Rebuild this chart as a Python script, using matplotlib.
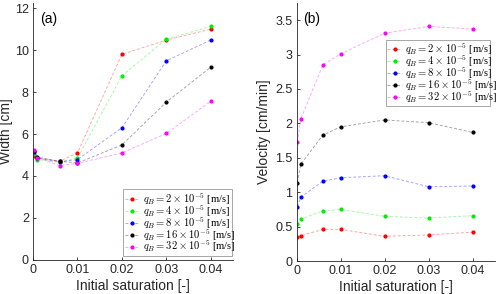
import numpy as np
import matplotlib
matplotlib.use('Agg')
import matplotlib.pyplot as plt
from matplotlib.ticker import FuncFormatter

plt.rcParams['font.family'] = ['Liberation Sans', 'DejaVu Sans']
plt.rcParams['mathtext.fontset'] = 'cm'

saturation = [0.0002, 0.001, 0.006, 0.01, 0.02, 0.03, 0.04]
flow_rates = [2, 4, 8, 16, 32]
colors = ['#ff0000', '#00ee00', '#0000ff', '#000000', '#ff00ff']

width = {
    2: [4.94, 4.85, 4.70, 5.10, 9.80, 10.48, 11.00],
    4: [5.06, 4.78, 4.65, 4.85, 8.78, 10.52, 11.13],
    8: [5.15, 4.85, 4.68, 4.78, 6.30, 9.49, 10.48],
    16: [5.20, 4.90, 4.70, 4.62, 5.48, 7.52, 9.19],
    32: [5.25, 4.88, 4.50, 4.60, 5.10, 6.03, 7.56],
}

velocity = {
    2: [0.35, 0.37, 0.46, 0.46, 0.36, 0.38, 0.42],
    4: [0.54, 0.61, 0.73, 0.75, 0.65, 0.625, 0.66],
    8: [0.79, 0.93, 1.16, 1.21, 1.24, 1.08, 1.09],
    16: [1.14, 1.41, 1.83, 1.95, 2.05, 2.01, 1.87],
    32: [1.73, 2.07, 2.85, 3.01, 3.31, 3.41, 3.37],
}


def fmt(v, pos):
    return '{:g}'.format(v)


def draw(ax, data, ylabel, ylim, yticks, tag, legend_box, label_x):
    for q, c in zip(flow_rates, colors):
        rgb = matplotlib.colors.to_rgb(c)
        ax.plot(saturation, data[q], ls=(0, (3, 2)), lw=0.7,
                color=rgb + (0.35,), marker='.', ms=4,
                markerfacecolor=c, markeredgecolor=c,
                label=r'$q_B = %d \times 10^{-5}$ [m/s]' % q)
    ax.set_xlim(0, 0.045)
    ax.set_ylim(*ylim)
    ax.set_xticks([0, 0.01, 0.02, 0.03, 0.04])
    ax.set_yticks(yticks)
    ax.xaxis.set_major_formatter(FuncFormatter(fmt))
    ax.yaxis.set_major_formatter(FuncFormatter(fmt))
    ax.tick_params(direction='in', length=2.5, width=0.6, labelsize=9,
                   colors='#262626', pad=3)
    for s in ['top', 'right']:
        ax.spines[s].set_visible(False)
    for s in ['left', 'bottom']:
        ax.spines[s].set_color('#262626')
        ax.spines[s].set_linewidth(0.6)
    ax.set_xlabel('Initial saturation [-]', fontsize=10, color='#262626',
                  labelpad=2)
    ax.set_ylabel(ylabel, fontsize=10, color='#262626')
    ax.yaxis.set_label_coords(label_x, 0.5)
    ax.text(0.035, 0.965, tag, transform=ax.transAxes, fontsize=10,
            va='top', ha='left')
    # mathtext boxes are tall, so pull the rows together a little
    leg = ax.legend(loc='lower left', bbox_to_anchor=legend_box,
                    mode='expand', handlelength=1.4,
                    prop={'family': 'Liberation Serif', 'size': 7.6},
                    handletextpad=0.3, borderpad=0.15, labelspacing=-0.35,
                    fancybox=False, framealpha=1, borderaxespad=0)
    leg.get_frame().set_edgecolor('#999999')
    leg.get_frame().set_linewidth(0.6)


fig = plt.figure(figsize=(5, 2.94), dpi=100)
ax1 = fig.add_axes([0.066, 0.116, 0.40, 0.874])
ax2 = fig.add_axes([0.593, 0.112, 0.396, 0.878])

draw(ax1, width, 'Width [cm]', (0, 12.25), np.arange(0, 13, 2), '(a)',
     (0.45, 0.015, 0.545, 0.24), -0.1)
draw(ax2, velocity, 'Velocity [cm/min]', (0, 3.75),
     np.arange(0, 3.6, 0.5), '(b)', (0.45, 0.60, 0.525, 0.235), -0.13)

fig.savefig('out.png', dpi=100)
